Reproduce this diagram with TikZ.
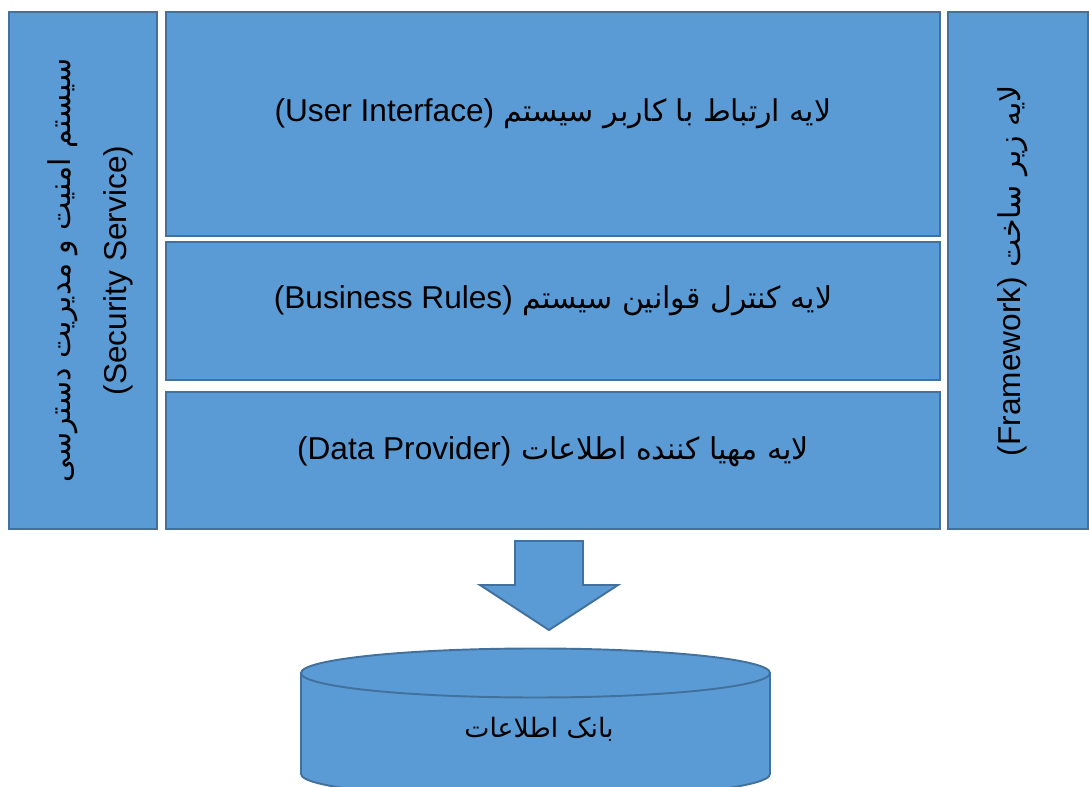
\documentclass[tikz,border=0pt]{standalone}
\usepackage{fontspec}
\setmainfont{Liberation Sans}
\newfontfamily\arabicfont[Script=Arabic, Scale=0.95]{DejaVu Sans}
\TeXXeTstate=1
\usetikzlibrary{positioning}
\definecolor{boxFill}{RGB}{91,155,213}
\definecolor{boxBorder}{RGB}{65,113,156}
\tikzstyle{pixels} = [x = 0.02cm, y = -0.02cm]
\tikzstyle{layerStyle} = [draw=boxBorder, fill=boxFill, line width=1.1pt]
\tikzstyle{layerBox} = [layerStyle, inner sep=0pt]
\tikzstyle{layerText} = [font=\fontsize{18}{32}\selectfont, text=black, inner sep=0pt]
\tikzstyle{bankTextStyle} = [font=\fontsize{16}{20}\selectfont, text=black, inner sep=0pt]
\newcommand{\layerBox}[5]{\node [layerBox, minimum width=#4*0.02cm, minimum height=#5*0.02cm] (#1) at (#2,#3) {};}
\newcommand{\faText}[2]{{\arabicfont\beginR #1 \beginL{\rmfamily #2}\endL\endR}}
\newcommand{\faLine}[1]{{\arabicfont\beginR #1\endR}}

\begin{document}
\begin{tikzpicture}[pixels]
  \useasboundingbox (0,0) rectangle (1089,787);
  \layerBox{security}{83}{270.5}{148}{517}
  \layerBox{ui}{553}{124}{774}{224}
  \layerBox{rules}{553}{311}{774}{138}
  \layerBox{data}{553}{460.5}{774}{137}
  \layerBox{framework}{1018}{270.5}{140}{517}

  \node [layerText] (uiText) at ([yshift=6pt]ui.center) {\faText{لایه ارتباط با کاربر سیستم}{(User Interface)}};
  \node [layerText] (rulesText) at ([yshift=6pt]rules.center) {\faText{لایه کنترل قوانین سیستم}{(Business Rules)}};
  \node [layerText] (dataText) at ([yshift=5pt]data.center) {\faText{لایه مهیا کننده اطلاعات}{(Data Provider)}};
  \node [layerText, rotate=90, align=center] (securityText) at ([xshift=4pt]security.center) {\faLine{سیستم امنیت و مدیریت دسترسی}\\(Security Service)};
  \node [layerText, rotate=90] (frameworkText) at ([xshift=-3pt]framework.center) {\faText{لایه زیر ساخت}{(Framework)}};

  \filldraw [layerStyle] (515,541) -- (583,541) -- (583,585) -- (618,585) -- (549,630) -- (480,585) -- (515,585) -- cycle;

  \filldraw [layerStyle] (301,673) -- (301,774) arc [start angle=180, end angle=0, x radius=234.5, y radius=24.5] -- (770,673) -- cycle;
  \filldraw [layerStyle] (535.5,673) ellipse [x radius=234.5, y radius=24.5];
  \node [bankTextStyle] (bankText) at (539,729) {\faLine{بانک اطلاعات}};
\end{tikzpicture}
\end{document}
